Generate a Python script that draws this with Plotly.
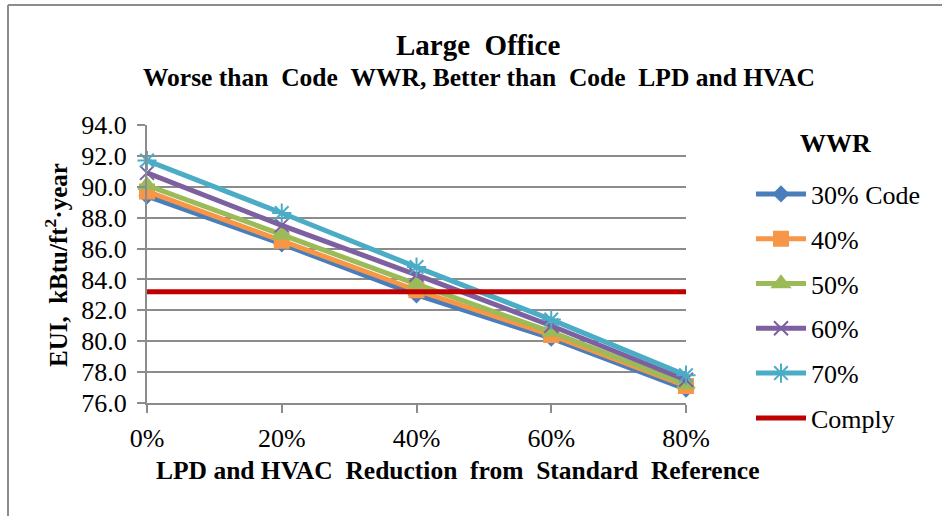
import plotly.graph_objects as go

categories = ["0%", "20%", "40%", "60%", "80%"]
wwr_30 = [89.4, 86.3, 83.0, 80.2, 76.9]
wwr_40 = [89.7, 86.5, 83.3, 80.4, 77.1]
wwr_50 = [90.1, 86.9, 83.7, 80.6, 77.2]
wwr_60 = [90.9, 87.5, 84.3, 81.0, 77.5]
wwr_70 = [91.7, 88.3, 84.8, 81.4, 77.8]
comply = [83.2, 83.2, 83.2, 83.2, 83.2]
y_ticks = [76, 78, 80, 82, 84, 86, 88, 90, 92, 94]

FONT = "Liberation Serif, Times New Roman, serif"
W, H = 942, 516
L, R, T, B = 147, 686, 125, 403

def px(x):
    return (x - L) / (R - L)

def py(y):
    return (B - y) / (B - T)

xs = list(range(len(categories)))

series = [
    ("30% Code", wwr_30, "#4A7EBB", "diamond", 11),
    ("40%", wwr_40, "#F79646", "square", 14),
    ("50%", wwr_50, "#9BBB59", "triangle-up", 15),
    ("60%", wwr_60, "#7D60A0", "x-thin-open", 14),
    ("70%", wwr_70, "#4BACC6", "asterisk-open", 16),
]

fig = go.Figure()
for i, (name, vals, color, sym, size) in enumerate(series):
    fig.add_trace(go.Scatter(
        x=xs, y=vals, name=name, mode="lines+markers",
        line=dict(color=color, width=5),
        marker=dict(symbol=sym, size=size, color=color,
                    line=dict(color=color, width=2)),
        cliponaxis=False, legendgroup=f"g{i}",
    ))
fig.add_trace(go.Scatter(
    x=xs, y=comply, name="Comply", mode="lines",
    line=dict(color="#C00000", width=5), cliponaxis=False, legendgroup="g9",
))

grid = "#8C8C8C"
tickfont = dict(family=FONT, size=26, color="black")
fig.update_xaxes(
    range=[0, 4], tickvals=xs, ticktext=categories, showgrid=False,
    showline=True, linecolor=grid, linewidth=2, ticks="outside", ticklen=8,
    tickcolor=grid, tickwidth=2, zeroline=False, tickfont=tickfont,
    ticklabelstandoff=3,
)
fig.update_yaxes(
    range=[76, 94], tickvals=y_ticks, tickformat=".1f", showgrid=True,
    gridcolor=grid, gridwidth=2, showline=True, linecolor=grid, linewidth=2,
    ticks="outside", ticklen=8, tickcolor=grid, tickwidth=2, zeroline=False,
    tickfont=tickfont, ticklabelstandoff=5,
)

nb = "\u00a0"
ann = [
    dict(text="<b>Large" + nb + " Office</b>", x=px(478), y=py(45), size=29),
    dict(text="<b>Worse than " + nb + "Code " + nb + "WWR, Better than " + nb + "Code " + nb + "LPD and HVAC</b>",
         x=px(479), y=py(78), size=25.5),
    dict(text="<b>LPD and HVAC " + nb + "Reduction " + nb + "from " + nb + "Standard " + nb + "Reference</b>",
         x=px(458), y=py(470), size=25.5),
    dict(text="<b>WWR</b>", x=px(835), y=py(143), size=26),
]
annotations = []
for a in ann:
    annotations.append(dict(text=a["text"], x=a["x"], y=a["y"], xref="paper", yref="paper",
                            showarrow=False, xanchor="center", yanchor="middle",
                            font=dict(family=FONT, size=a["size"], color="black")))
annotations.append(dict(text="<b>EUI, " + nb + "kBtu/ft<sup>2</sup>·year</b>", x=px(56), y=py(265),
                        xref="paper", yref="paper", showarrow=False, textangle=-90,
                        xanchor="center", yanchor="middle",
                        font=dict(family=FONT, size=25, color="black")))

shapes = [
    dict(type="line", xref="paper", yref="paper", x0=px(8), x1=px(8), y0=py(530), y1=py(5),
         line=dict(color="#8C8C8C", width=2)),
    dict(type="line", xref="paper", yref="paper", x0=px(8), x1=px(960), y0=py(5), y1=py(5),
         line=dict(color="#8C8C8C", width=2)),
]

fig.update_layout(
    width=W, height=H,
    margin=dict(l=L, r=W - R, t=T, b=H - B, autoexpand=False),
    plot_bgcolor="white", paper_bgcolor="white",
    font=dict(family=FONT, color="black"),
    annotations=annotations, shapes=shapes,
    showlegend=True,
    legend=dict(x=px(751), y=py(170.5), xanchor="left", yanchor="top",
                font=dict(family=FONT, size=26, color="black"),
                tracegroupgap=8, itemwidth=50, maxheight=600,
                bgcolor="rgba(0,0,0,0)"),
)

fig.write_html("out.html", config={"displayModeBar": False},
               post_script="document.body.style.margin='0';document.body.style.overflow='hidden';")
